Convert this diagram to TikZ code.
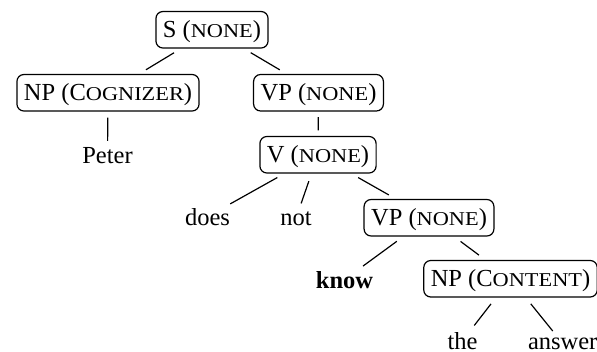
\documentclass[tikz,border=0pt]{standalone}
\usepackage{fontspec}
\setmainfont{Liberation Serif}
\newfontfamily\scfont[Scale=0.8,FakeStretch=1.14]{Liberation Serif}
\newcommand{\Sc}[1]{{\scfont #1}}
\begin{document}
\begin{tikzpicture}[x=1pt,y=-1pt,
  every node/.style={font=\fontsize{24.5}{28}\selectfont},
  box/.style={draw, rounded corners=7pt, line width=1.2pt, inner xsep=7pt,
    inner ysep=7.5pt, text height=18pt, text depth=3.5pt, anchor=base},
  word/.style={inner sep=0pt, anchor=base},
  edge/.style={line width=1.2pt, shorten <=#1, shorten >=#1},
  edge/.default=8pt]
\useasboundingbox (0,0) rectangle (597,351);
\node[box] (S) at (212,37) {S (\Sc{NONE})};
\node[box] (NPa) at (108,100) {NP (C\Sc{OGNIZER})};
\node[box] (VPa) at (318.5,100) {VP (\Sc{NONE})};
\node[word] (peter) at (107.5,163) {Peter};
\node[box] (V) at (318,162) {V (\Sc{NONE})};
\node[word] (does) at (207.5,225) {does};
\node[word] (not) at (296,225) {not};
\node[box] (VPb) at (429,225) {VP (\Sc{NONE})};
\node[word] (know) at (344.5,288) {\textbf{know}};
\node[box] (NPb) at (510.5,286) {NP (C\Sc{ONTENT})};
\node[word] (the) at (462.5,349) {the};
\node[word] (answer) at (562.7,349) {answer};
\draw[edge] (S) -- (NPa);
\draw[edge] (S) -- (VPa);
\draw[edge=6pt] (NPa) -- (peter);
\draw[edge=5.5pt] (VPa) -- (V);
\draw[edge] (V) -- (does);
\draw[edge] (V) -- (not);
\draw[edge] (V) -- (VPb);
\draw[edge] (VPb) -- (know);
\draw[edge] (VPb) -- (NPb);
\draw[edge] (NPb) -- (the);
\draw[edge] (NPb) -- (answer);
\end{tikzpicture}
\end{document}
